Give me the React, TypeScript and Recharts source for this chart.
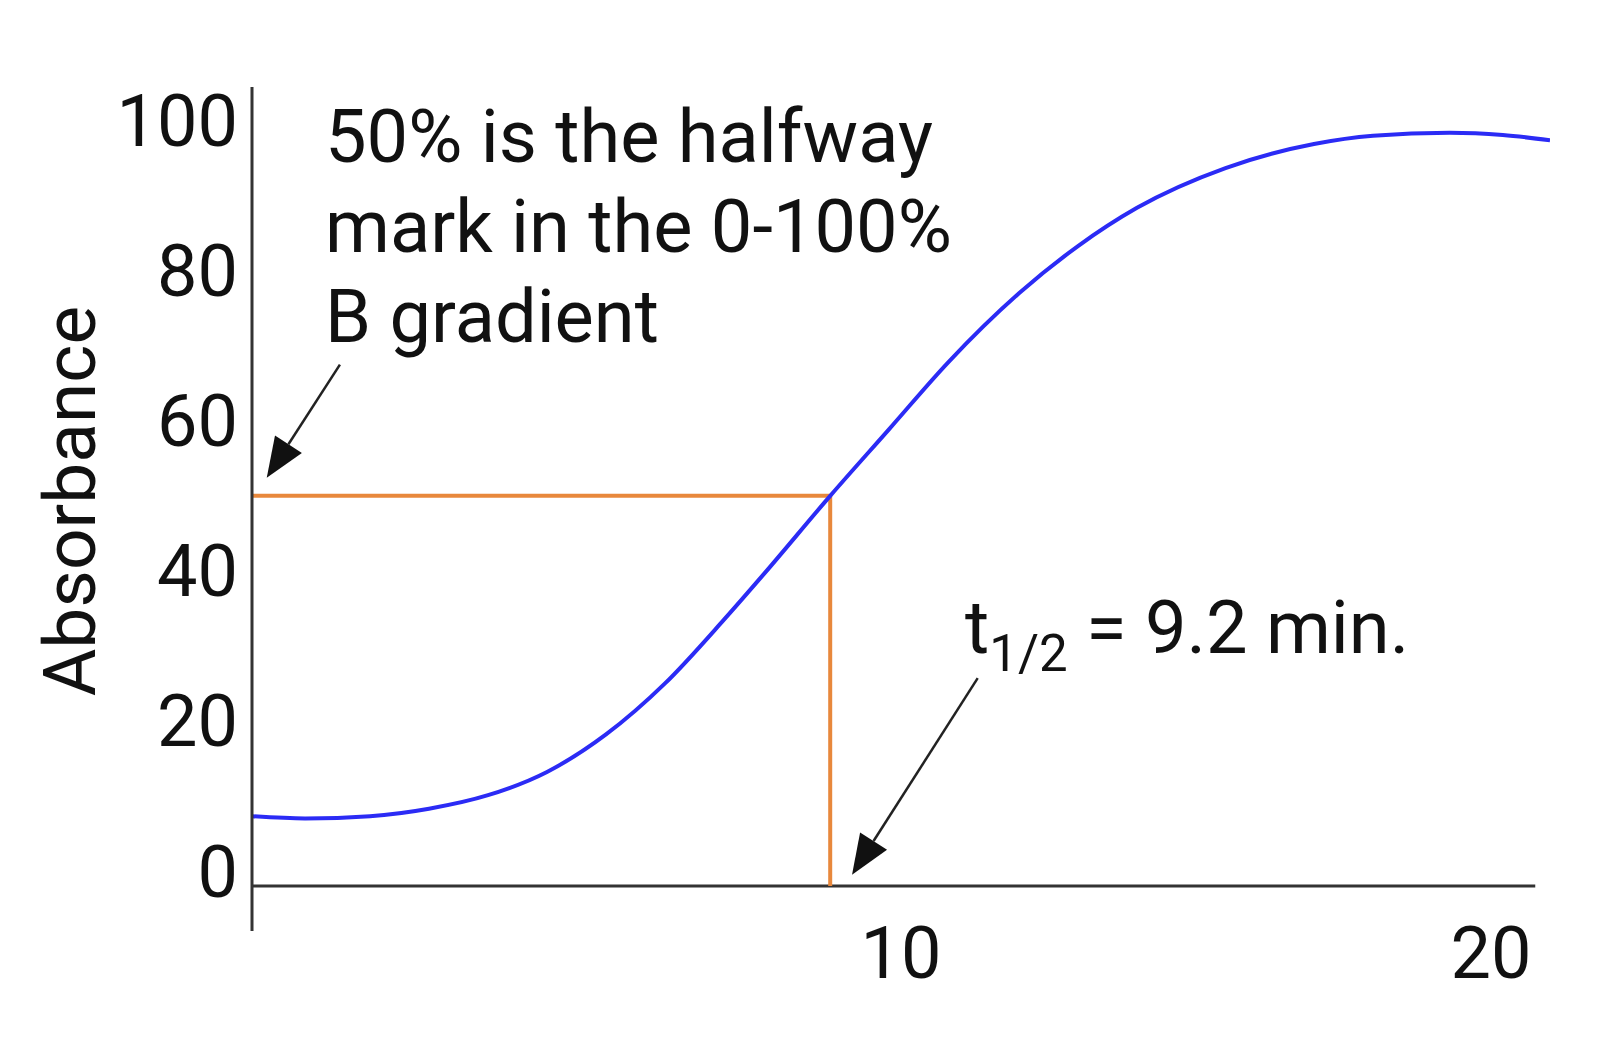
import React from "react"
import { LineChart, Line, XAxis, YAxis, ReferenceLine } from "recharts"

// gradient run: time (min) vs absorbance (%)
const time = [-1, -0.1, 1, 2, 3, 4, 5, 6, 7, 7.7, 8.8, 9.8, 10.8, 12, 13, 14, 15.5, 17, 18, 19.3, 20.2, 21]
const absorbance = [7.3, 7.0, 7.3, 8.3, 10.1, 13.2, 18.2, 25, 33.5, 39.8, 50, 58.9, 67.8, 77, 83.3, 88.4, 93.7, 96.9, 98, 98.4, 98.1, 97.4]

const yTicks = [0, 20, 40, 60, 80, 100]
const xTicks = [10, 20]

// half-way marker as drawn
const halfTime = 8.8
const halfValue = 50
const baseline = -2
const axisEnd = 20.75

const data = time.map((t, i) => ({ t, a: absorbance[i] }))

const FONT = "Roboto, 'Noto Sans', sans-serif"
const INK = "#111"
const AXIS = "#333"
const ORANGE = "#e8883c"
const BLUE = "#2b2bf5"

function Arrow(props: any) {
  const { x1, y1, x2, y2 } = props
  const dx = x2 - x1
  const dy = y2 - y1
  const len = Math.sqrt(dx * dx + dy * dy)
  const ux = dx / len
  const uy = dy / len
  const head = 40
  const half = 16
  const bx = x2 - ux * head
  const by = y2 - uy * head
  const pts = `${x2},${y2} ${bx - uy * half},${by + ux * half} ${bx + uy * half},${by - ux * half}`
  return (
    <g>
      <line x1={x1} y1={y1} x2={bx} y2={by} stroke="#222" strokeWidth={2.5} />
      <polygon points={pts} fill="#111" />
    </g>
  )
}

export default function App() {
  return (
    <div style={{ position: "absolute", left: 0, top: 0, width: 1600, height: 1060, background: "#fff" }}>
      <LineChart width={1600} height={1060} data={data} margin={{ top: 87, right: 50, bottom: 69, left: 52 }}>
        <XAxis
          dataKey="t"
          type="number"
          domain={[-1, 21]}
          ticks={xTicks}
          allowDataOverflow
          axisLine={false}
          tickLine={false}
          tickSize={0}
          tickMargin={-4}
          height={60}
          tick={{ fontSize: 72, fill: INK, fontFamily: FONT }}
        />
        <YAxis
          type="number"
          domain={[-8, 104.5]}
          ticks={yTicks}
          allowDataOverflow
          width={200}
          tickLine={false}
          tickSize={0}
          tickMargin={14}
          axisLine={{ stroke: AXIS, strokeWidth: 3 }}
          tick={{ fontSize: 72, fill: INK, fontFamily: FONT }}
          label={({ viewBox }: any) => (
            <text
              transform={`translate(${viewBox.x + 43},${viewBox.y + viewBox.height / 2 - 8}) rotate(-90)`}
              textAnchor="middle"
              fontSize={73}
              fontFamily={FONT}
              fill={INK}
            >
              Absorbance
            </text>
          )}
        />
        <ReferenceLine
          segment={[{ x: -1, y: baseline }, { x: axisEnd, y: baseline }]}
          stroke={AXIS}
          strokeWidth={3}
        />
        <ReferenceLine
          segment={[{ x: -1, y: halfValue }, { x: halfTime, y: halfValue }]}
          stroke={ORANGE}
          strokeWidth={4}
        />
        <ReferenceLine
          segment={[{ x: halfTime, y: halfValue }, { x: halfTime, y: baseline }]}
          stroke={ORANGE}
          strokeWidth={4}
        />
        <ReferenceLine segment={[{ x: 0.49, y: 67.5 }, { x: -0.75, y: 52.4 }]} shape={Arrow} />
        <ReferenceLine segment={[{ x: 11.3, y: 25.7 }, { x: 9.17, y: -0.5 }]} shape={Arrow} />
        <Line
          type="monotone"
          dataKey="a"
          stroke={BLUE}
          strokeWidth={4}
          dot={false}
          isAnimationActive={false}
        />
      </LineChart>
      <svg
        width={1600}
        height={1060}
        style={{ position: "absolute", left: 0, top: 0, pointerEvents: "none" }}
        fontFamily={FONT}
        fill={INK}
      >
        <text x={325} y={162} fontSize={74}>50% is the halfway</text>
        <text x={325} y={252} fontSize={74}>mark in the 0-100%</text>
        <text x={325} y={342} fontSize={74}>B gradient</text>
        <text x={965} y={653} fontSize={74}>
          t<tspan fontSize={51} dy={18}>1/2</tspan>
          <tspan dy={-18}> = 9.2 min.</tspan>
        </text>
      </svg>
    </div>
  )
}
